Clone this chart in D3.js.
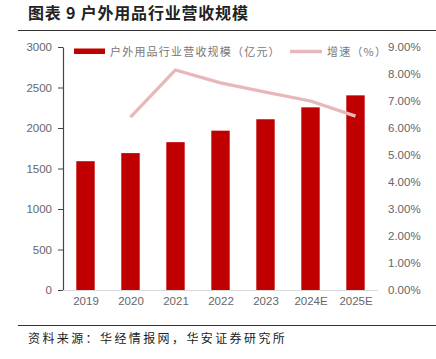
<!DOCTYPE html>
<html><head><meta charset="utf-8">
<script src="https://cdn.jsdelivr.net/npm/d3@7"></script>
<style>body{margin:0;background:#fff;} svg{display:block;}</style>
</head><body>
<svg id="c" width="436" height="359"></svg>
<script>
const categories = ["2019","2020","2021","2022","2023","2024E","2025E"];
const revenue = [1590, 1690, 1825, 1967, 2108, 2255, 2403];
const growth = [null, 6.40, 8.15, 7.67, 7.33, 7.00, 6.44];
const leftTicks = [0,500,1000,1500,2000,2500,3000];
const rightTicks = [0,1,2,3,4,5,6,7,8,9];
const titleText = "图表 9 户外用品行业营收规模";
const sourceText = "资料来源：华经情报网，华安证券研究所";
const legendLabels = ["户外用品行业营收规模（亿元）","增速（%）"];

const svg = d3.select("#c");
const font = "'Noto Sans CJK SC', sans-serif";
const L = 63, R = 378, T = 47, B = 290;

svg.append("text").attr("x",28).attr("y",19).attr("font-family",font).attr("font-weight","bold")
  .attr("font-size",16).attr("letter-spacing",0.8).attr("fill","#222").text(titleText);
svg.append("line").attr("x1",18).attr("x2",436).attr("y1",30.5).attr("y2",30.5).attr("stroke","#333").attr("stroke-width",1.2);
svg.append("line").attr("x1",18).attr("x2",436).attr("y1",325.5).attr("y2",325.5).attr("stroke","#333").attr("stroke-width",1.2);
svg.append("text").attr("x",28).attr("y",343).attr("font-family",font)
  .attr("font-size",12).attr("letter-spacing",2.4).attr("fill","#222").text(sourceText);

const xc = d3.scalePoint().domain(categories).range([L,R]).padding(0.5);
const y = d3.scaleLinear().domain([0,3000]).range([B,T]);
const y2 = d3.scaleLinear().domain([0,9]).range([B,T]);

// bars
svg.append("g").selectAll("rect").data(revenue).join("rect")
  .attr("x",(d,i)=>xc(categories[i]) - 9.2).attr("width",18.4)
  .attr("y",d=>y(d)).attr("height",d=>B-y(d)).attr("fill","#C00000");

// line
const line = d3.line().defined(d=>d!=null).x((d,i)=>xc(categories[i])).y(d=>y2(d));
svg.append("path").datum(growth).attr("d",line).attr("fill","none")
  .attr("stroke","#E8B7B7").attr("stroke-width",3.2).attr("stroke-linejoin","round");

const tickFont = "'Liberation Sans', Arial, sans-serif";
// left axis
const gl = svg.append("g").attr("transform",`translate(${L},0)`)
  .call(d3.axisLeft(y).tickValues(leftTicks).tickFormat(d3.format("d")).tickSize(5).tickSizeOuter(0).tickPadding(6));
gl.select(".domain").attr("stroke","#444").attr("stroke-width",1.2);
gl.selectAll(".tick line").attr("stroke","#444");
gl.selectAll("text").attr("font-family",tickFont).attr("font-size",11.5).attr("fill","#666");

// right axis (no line)
const gr = svg.append("g").attr("transform",`translate(${R+6},0)`)
  .call(d3.axisRight(y2).tickValues(rightTicks).tickSize(0).tickPadding(4).tickFormat(d=>d.toFixed(2)+"%"));
gr.select(".domain").remove();
gr.selectAll("text").attr("font-family",tickFont).attr("font-size",11.5).attr("fill","#666");

// x axis
const gx = svg.append("g").attr("transform",`translate(0,${B})`)
  .call(d3.axisBottom(xc).tickSize(0).tickPadding(7));
gx.select(".domain").remove();
svg.append("line").attr("x1",L).attr("x2",R).attr("y1",B+0.5).attr("y2",B+0.5).attr("stroke","#d9d9d9");
gx.selectAll("text").attr("font-family",tickFont).attr("font-size",11.5).attr("fill","#666");

// legend
svg.append("rect").attr("x",74).attr("y",48.5).attr("width",31).attr("height",5.5).attr("fill","#C00000");
svg.append("text").attr("x",110).attr("y",55.5).attr("font-family",font).attr("font-size",11)
  .attr("letter-spacing",1.2).attr("fill","#777").text(legendLabels[0]);
svg.append("line").attr("x1",290).attr("x2",322).attr("y1",51.5).attr("y2",51.5)
  .attr("stroke","#E8B7B7").attr("stroke-width",3.5);
svg.append("text").attr("x",327).attr("y",55.5).attr("font-family",font).attr("font-size",11)
  .attr("letter-spacing",1.2).attr("fill","#777").text(legendLabels[1]);
</script>
</body></html>
